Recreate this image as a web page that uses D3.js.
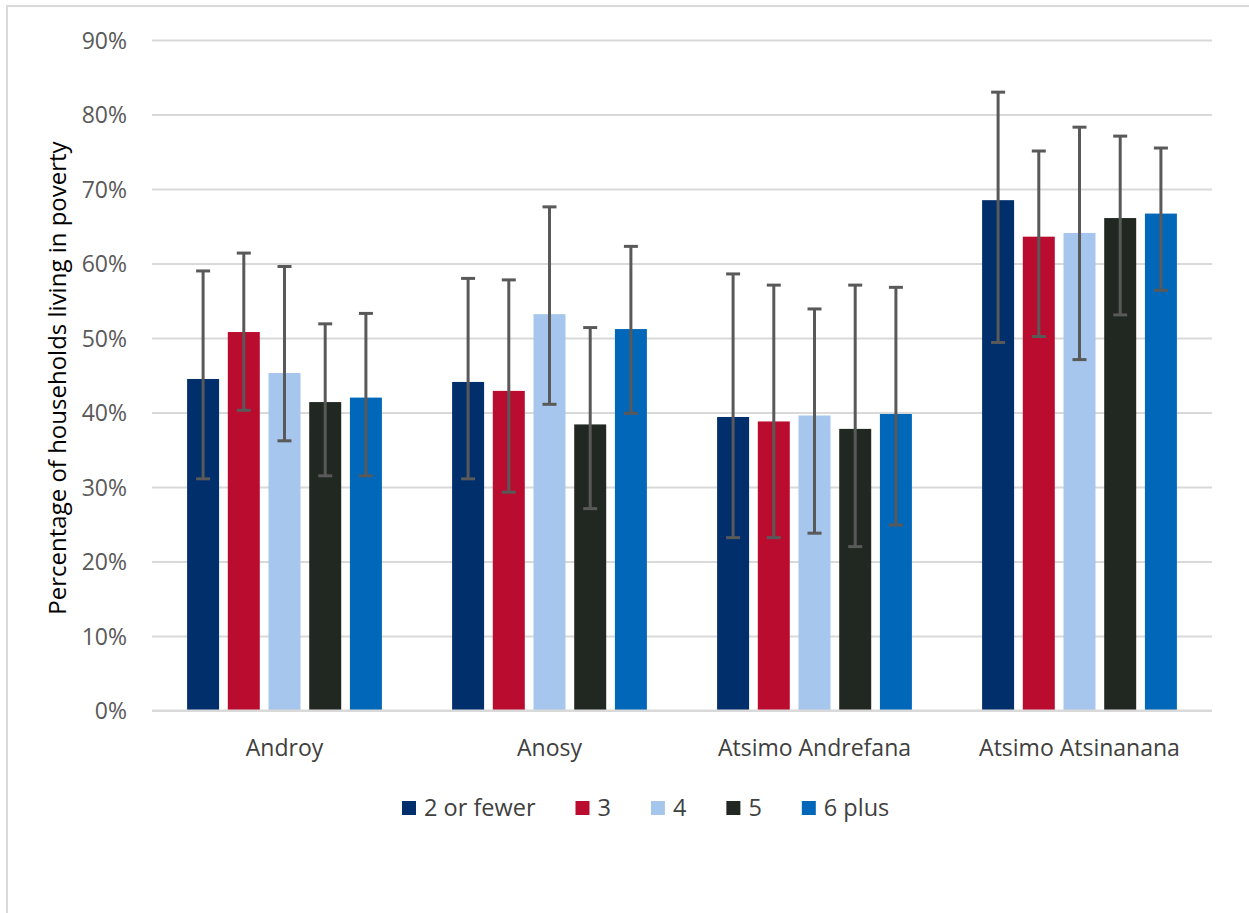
<!DOCTYPE html>
<html>
<head>
<meta charset="utf-8">
<script src="https://cdn.jsdelivr.net/npm/d3@7"></script>
<style>
  html, body { margin: 0; padding: 0; background: #fff; }
  svg { display: block; }
  text { font-family: "Open Sans", Lato, sans-serif; }
</style>
</head>
<body>
<svg id="chart" width="1249" height="913"></svg>
<script>
const categories = ["Androy", "Anosy", "Atsimo Andrefana", "Atsimo Atsinanana"];
const seriesNames = ["2 or fewer", "3", "4", "5", "6 plus"];
const seriesColors = ["#002F6C", "#BA0C2F", "#A7C6ED", "#212721", "#0067B9"];
// values per series, one per category (fractions)
const values = [
  [0.445, 0.441, 0.394, 0.685],
  [0.508, 0.429, 0.388, 0.636],
  [0.453, 0.532, 0.396, 0.641],
  [0.414, 0.384, 0.378, 0.661],
  [0.420, 0.512, 0.398, 0.667]
];
const errHigh = [
  [0.590, 0.580, 0.586, 0.830],
  [0.614, 0.578, 0.571, 0.751],
  [0.596, 0.676, 0.539, 0.783],
  [0.519, 0.514, 0.571, 0.771],
  [0.533, 0.623, 0.568, 0.755]
];
const errLow = [
  [0.311, 0.311, 0.232, 0.494],
  [0.403, 0.293, 0.232, 0.502],
  [0.362, 0.411, 0.238, 0.471],
  [0.315, 0.271, 0.220, 0.531],
  [0.315, 0.399, 0.249, 0.564]
];
const yTicks = [0, 0.1, 0.2, 0.3, 0.4, 0.5, 0.6, 0.7, 0.8, 0.9];
const yTitle = "Percentage of households living in poverty";

const FONT = "'Open Sans', Lato, sans-serif";
const svg = d3.select("#chart");

// outer frame (left and top)
svg.append("path")
  .attr("d", "M7,913 L7,6 L1249,6")
  .attr("fill", "none").attr("stroke", "#d9d9d9").attr("stroke-width", 2);

const x0 = d3.scaleBand().domain(categories).range([152, 1212]).paddingInner(0).paddingOuter(0);
const x1 = d3.scaleBand().domain(seriesNames).range([35.1, 229.9]).paddingInner(0.214).paddingOuter(0);
const y = d3.scaleLinear().domain([0, 0.9]).range([710.5, 40]);

// gridlines + tick labels
const yAxis = d3.axisLeft(y).tickValues(yTicks).tickSize(-(1212 - 152)).tickFormat(d3.format(".0%"));
const gy = svg.append("g").attr("transform", "translate(152,0)").call(yAxis);
gy.select(".domain").remove();
gy.selectAll(".tick line").attr("stroke", "#d9d9d9").attr("stroke-width", 2);
gy.selectAll(".tick text")
  .attr("x", -25).attr("dy", "0.35em")
  .attr("fill", "#595959").attr("font-size", 23)
  .attr("font-family", FONT);

// bars
const groups = svg.append("g").selectAll("g")
  .data(categories).join("g")
  .attr("transform", d => `translate(${x0(d)},0)`);

groups.each(function(cat, ci) {
  const g = d3.select(this);
  seriesNames.forEach((s, si) => {
    g.append("rect")
      .attr("x", x1(s))
      .attr("y", y(values[si][ci]))
      .attr("width", x1.bandwidth())
      .attr("height", y(0) - y(values[si][ci]))
      .attr("fill", seriesColors[si]);
  });
  seriesNames.forEach((s, si) => {
    const cx = x1(s) + x1.bandwidth() / 2;
    const eg = g.append("g").attr("stroke", "#595959").attr("stroke-width", 3);
    eg.append("line").attr("x1", cx).attr("x2", cx)
      .attr("y1", y(errHigh[si][ci])).attr("y2", y(errLow[si][ci]));
    eg.append("line").attr("x1", cx - 7).attr("x2", cx + 7)
      .attr("y1", y(errHigh[si][ci])).attr("y2", y(errHigh[si][ci]));
    eg.append("line").attr("x1", cx - 7).attr("x2", cx + 7)
      .attr("y1", y(errLow[si][ci])).attr("y2", y(errLow[si][ci]));
  });
});

// baseline
svg.append("line").attr("x1", 152).attr("x2", 1212).attr("y1", y(0)).attr("y2", y(0))
  .attr("stroke", "#d9d9d9").attr("stroke-width", 2);

// category labels
const xAxis = d3.axisBottom(x0).tickSize(0).tickPadding(0);
const gx = svg.append("g").attr("transform", `translate(0,${y(0)})`).call(xAxis);
gx.select(".domain").remove();
gx.selectAll(".tick text")
  .attr("y", 37).attr("dy", "0.35em")
  .attr("fill", "#404040").attr("font-size", 23)
  .attr("font-family", FONT);

// y title
svg.append("text")
  .attr("transform", "translate(58,378) rotate(-90)")
  .attr("text-anchor", "middle").attr("dy", "0.35em")
  .attr("fill", "#000").attr("font-size", 24)
  .text(yTitle);

// legend
const legend = svg.append("g");
let lx = 402;
seriesNames.forEach((s, i) => {
  const item = legend.append("g").attr("transform", `translate(${lx},0)`);
  item.append("rect").attr("x", 0).attr("y", 801).attr("width", 14).attr("height", 14).attr("fill", seriesColors[i]);
  const t = item.append("text").attr("x", 22).attr("y", 808).attr("dy", "0.35em")
    .attr("fill", "#404040").attr("font-size", 23.5).text(s);
  const w = t.node().getComputedTextLength();
  lx += 22 + w + 40;
});
</script>
</body>
</html>
